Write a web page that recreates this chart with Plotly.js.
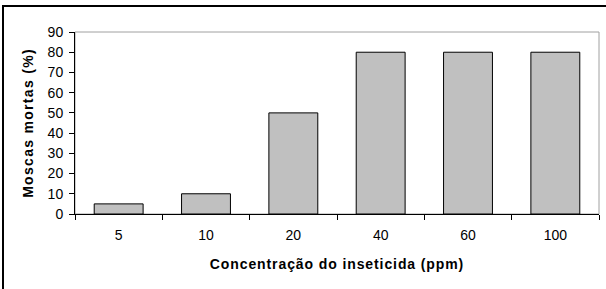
<!DOCTYPE html>
<html>
<head>
<meta charset="utf-8">
<script src="https://cdn.plot.ly/plotly-3.0.1.min.js"></script>
<style>
html,body{margin:0;padding:0;background:#fff;overflow:hidden;}
#wrap{position:relative;width:606px;height:289px;}
#chart{position:absolute;left:0;top:0;width:606px;height:289px;}
#frame{position:absolute;left:2px;top:5px;width:700px;height:400px;border-left:2px solid #000;border-top:2px solid #000;pointer-events:none;}
.xtitle{letter-spacing:0.9px;}
.ytitle{letter-spacing:1.3px;}
</style>
</head>
<body>
<div id="wrap"><div id="chart"></div><div id="frame"></div></div>
<script>
const categories = ['5', '10', '20', '40', '60', '100'];
const mortality = [5, 10, 50, 80, 80, 80];
const yTicks = [0, 10, 20, 30, 40, 50, 60, 70, 80, 90];
const xTitle = 'Concentração do inseticida (ppm)';
const yTitle = 'Moscas mortas (%)';

const font = 'Arial, "Liberation Sans", sans-serif';

Plotly.newPlot('chart', [{
  type: 'bar',
  x: categories,
  y: mortality,
  marker: {color: '#C0C0C0', line: {color: '#000', width: 1}},
  hoverinfo: 'none'
}], {
  width: 606, height: 289,
  margin: {l: 75, r: 7, t: 32, b: 75},
  paper_bgcolor: '#fff', plot_bgcolor: '#fff',
  bargap: 0.44,
  showlegend: false,
  font: {family: font, color: '#000', size: 14},
  shapes: [{type: 'rect', xref: 'paper', yref: 'paper', x0: 0, x1: 1, y0: 0, y1: 1,
            line: {color: '#A0A0A0', width: 1}, layer: 'below'}],
  xaxis: {
    type: 'category', range: [-0.5, 5.5], tickson: 'boundaries',
    ticks: 'outside', ticklen: 5, tickcolor: '#000', tickwidth: 1,
    showline: true, linecolor: '#000', linewidth: 1,
    showgrid: false, zeroline: false, ticklabelstandoff: 8,
    tickfont: {size: 14},
    title: {text: xTitle, font: {size: 14, family: font, weight: 'bold'}, standoff: 17}
  },
  yaxis: {
    range: [0, 90], tickvals: yTicks, ticktext: yTicks.map(String),
    ticks: 'outside', ticklen: 5, tickcolor: '#000', tickwidth: 1,
    showline: true, linecolor: '#000', linewidth: 1,
    showgrid: false, zeroline: false, ticklabelstandoff: 3,
    tickfont: {size: 14},
    title: {text: yTitle, font: {size: 14, family: font, weight: 'bold'}, standoff: 10}
  }
}, {staticPlot: true});
</script>
</body>
</html>
